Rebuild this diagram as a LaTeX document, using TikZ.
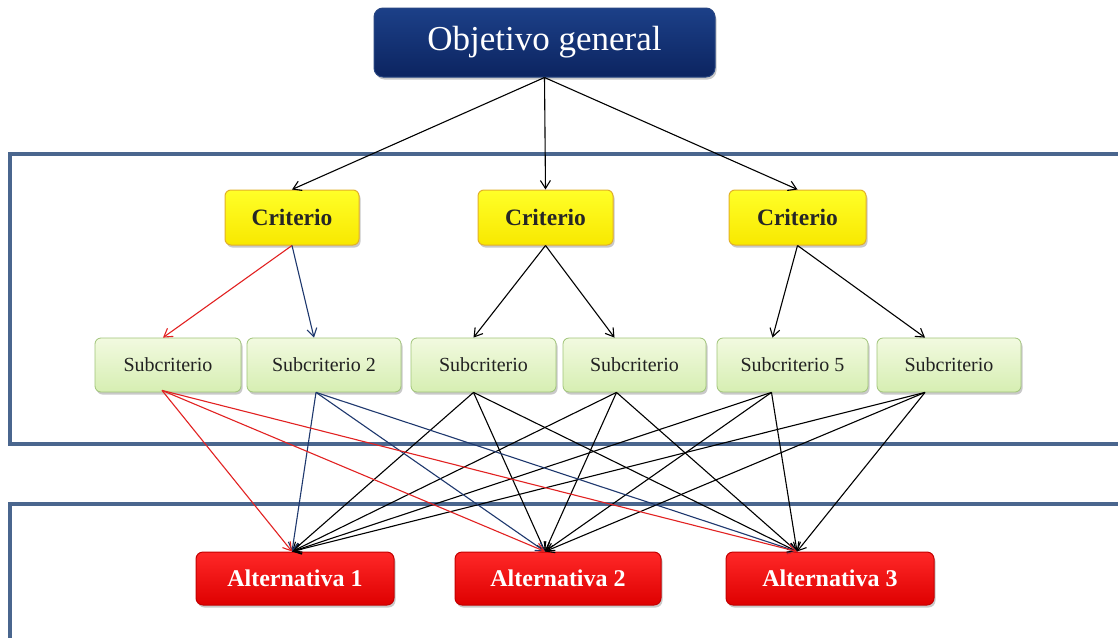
\documentclass[tikz,border=0pt]{standalone}
\usepackage{fontspec}
\setmainfont{Liberation Serif}
\usetikzlibrary{arrows.meta,calc,shadows}
\definecolor{navytop}{RGB}{28,64,136}
\definecolor{navybot}{RGB}{12,36,96}
\definecolor{navyline}{RGB}{40,70,130}
\definecolor{yeltop}{RGB}{255,255,40}
\definecolor{yelbot}{RGB}{248,232,0}
\definecolor{yelline}{RGB}{226,176,40}
\definecolor{grtop}{RGB}{242,250,224}
\definecolor{grbot}{RGB}{214,238,178}
\definecolor{grline}{RGB}{160,196,120}
\definecolor{redtop}{RGB}{255,40,40}
\definecolor{redbot}{RGB}{222,0,0}
\definecolor{redline}{RGB}{196,0,0}
\definecolor{framec}{RGB}{74,102,142}
\definecolor{arrred}{RGB}{226,34,34}
\definecolor{arrblue}{RGB}{30,56,110}
\definecolor{subtext}{RGB}{34,34,34}
\begin{document}
\begin{tikzpicture}[x=1pt,y=-1pt,
  shad/.style={drop shadow={shadow xshift=1.5pt,shadow yshift=-2.5pt,opacity=0.35,fill=black!60}},
  objbox/.style={shad,rounded corners=9pt,draw=navyline,line width=1pt,top color=navytop,bottom color=navybot,
    text=white,font=\fontsize{35}{35}\selectfont,minimum width=341pt,minimum height=69pt,inner sep=0pt},
  critbox/.style={shad,rounded corners=6pt,draw=yelline,line width=1pt,top color=yeltop,bottom color=yelbot,
    text=black!85,font=\fontsize{23.5}{23.5}\selectfont\bfseries,minimum height=55pt,inner sep=0pt},
  subbox/.style={shad,rounded corners=6pt,draw=grline,line width=0.8pt,top color=grtop,bottom color=grbot,
    text=subtext,font=\fontsize{20}{20}\selectfont,minimum height=54pt,inner sep=0pt},
  altbox/.style={shad,rounded corners=7pt,draw=redline,line width=1pt,top color=redtop,bottom color=redbot,
    text=white,font=\fontsize{24}{24}\selectfont\bfseries,minimum height=53pt,inner sep=0pt},
  framel/.style={draw=framec,line width=3.5pt},
  conn/.style={line width=1.1pt,-{Straight Barb[length=8pt,width=10pt,line width=1.1pt]}},
  blk/.style={conn,draw=black},
  rd/.style={conn,draw=arrred},
  bl/.style={conn,draw=arrblue}]
\useasboundingbox (0,0) rectangle (1118,637);
\fill[white] (0,0) rectangle (1118,637);
% frames
\draw[framel] (1135,154) -- (10,154) -- (10,444) -- (1135,444);
\draw[framel] (1135,504) -- (10,504) -- (10,650);
% nodes
\node[objbox] (obj) at (544.5,42.5) {Objetivo general};
\node[critbox,minimum width=134pt] (c1) at (292,217.5) {Criterio};
\node[critbox,minimum width=135pt] (c2) at (545.5,217.5) {Criterio};
\node[critbox,minimum width=137pt] (c3) at (797.5,217.5) {Criterio};
\node[subbox,minimum width=146pt] (s1) at (168,365) {Subcriterio};
\node[subbox,minimum width=154pt] (s2) at (324,365) {Subcriterio 2};
\node[subbox,minimum width=145pt] (s3) at (483.5,365) {Subcriterio};
\node[subbox,minimum width=143pt] (s4) at (634.5,365) {Subcriterio};
\node[subbox,minimum width=151pt] (s5) at (792.5,365) {Subcriterio 5};
\node[subbox,minimum width=144pt] (s6) at (949,365) {Subcriterio};
\node[altbox,minimum width=198pt] (a1) at (295,578.5) {Alternativa 1};
\node[altbox,minimum width=206pt] (a2) at (558,578.5) {Alternativa 2};
\node[altbox,minimum width=208pt] (a3) at (830,578.5) {Alternativa 3};
% anchor points
\coordinate (s1t) at ($(s1.north)+(-5,0)$);
\coordinate (s2t) at ($(s2.north)+(-10,0)$);
\coordinate (s3t) at ($(s3.north)+(-10,0)$);
\coordinate (s4t) at ($(s4.north)+(-20,0)$);
\coordinate (s5t) at ($(s5.north)+(-20,0)$);
\coordinate (s6t) at ($(s6.north)+(-24,0)$);
\coordinate (s1b) at ($(s1.south)+(-6,-2)$);
\coordinate (s2b) at ($(s2.south)+(-8,0)$);
\coordinate (s3b) at ($(s3.south)+(-10,0)$);
\coordinate (s4b) at ($(s4.south)+(-18,0)$);
\coordinate (s5b) at ($(s5.south)+(-21,0)$);
\coordinate (s6b) at ($(s6.south)+(-24,0)$);
\coordinate (a1t) at ($(a1.north)+(-3,0)$);
\coordinate (a2t) at ($(a2.north)+(-13,0)$);
\coordinate (a3t) at ($(a3.north)+(-33,0)$);
% objective to criteria
\draw[blk] (obj.south) -- (c1.north);
\draw[blk] (obj.south) -- (c2.north);
\draw[blk] (obj.south) -- (c3.north);
% criteria to subcriteria
\draw[rd] (c1.south) -- (s1t);
\draw[bl] (c1.south) -- (s2t);
\draw[blk] (c2.south) -- (s3t);
\draw[blk] (c2.south) -- (s4t);
\draw[blk] (c3.south) -- (s5t);
\draw[blk] (c3.south) -- (s6t);
% subcriteria to alternatives
\foreach \s in {3,4,5,6}{
  \draw[blk] (s\s b) -- (a1t);
  \draw[blk] (s\s b) -- (a2t);
  \draw[blk] (s\s b) -- (a3t);
}
\draw[bl] (s2b) -- (a1t);
\draw[bl] (s2b) -- (a2t);
\draw[bl] (s2b) -- (a3t);
\draw[rd] (s1b) -- (a1t);
\draw[rd] (s1b) -- (a2t);
\draw[rd] (s1b) -- (a3t);
\end{tikzpicture}
\end{document}
